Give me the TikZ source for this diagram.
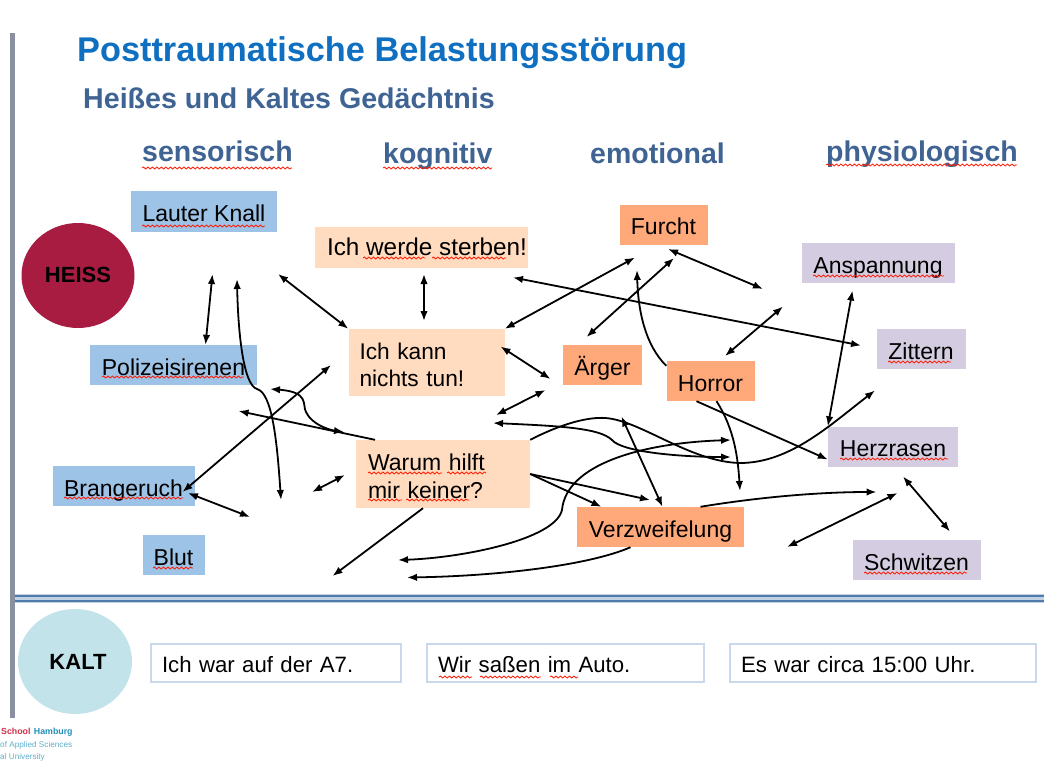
\documentclass[tikz,border=0pt]{standalone}
\usepackage{fontspec}
\setmainfont{Liberation Sans}
\usepackage{xcolor}
\usepackage{tikz}
\usetikzlibrary{arrows.meta, positioning, shapes.geometric, decorations.pathmorphing}

\definecolor{sensblue}{HTML}{9DC3E6}
\definecolor{kogpeach}{HTML}{FFDBBF}
\definecolor{emoorange}{HTML}{FFA97A}
\definecolor{physlilac}{HTML}{D4CDE1}
\definecolor{heissred}{HTML}{A81C42}
\definecolor{kaltcyan}{HTML}{C3E3EB}
\definecolor{kaltedge}{HTML}{C9D8EA}
\definecolor{titleblue}{HTML}{0F6FC0}
\definecolor{headblue}{HTML}{3F6494}
\definecolor{rulegray}{HTML}{8A90A0}
\definecolor{ruleblue}{HTML}{4F7CAC}
\definecolor{logored}{HTML}{D0304A}
\definecolor{logoteal}{HTML}{2090B8}
\definecolor{logopale}{HTML}{60B0CC}

\begin{document}
\begin{tikzpicture}[
  x=1pt, y=-1pt,
  font=\fontsize{23}{27.5}\selectfont,
  box/.style={rectangle, inner sep=0pt, text=black},
  onel/.style={box, text height=30pt, text depth=10pt},
  sens/.style={onel, fill=sensblue},
  kog/.style={box, fill=kogpeach, align=left},
  emo/.style={onel, fill=emoorange},
  phys/.style={onel, fill=physlilac},
  kaltbox/.style={box, draw=kaltedge, line width=2.5pt, fill=white, inner xsep=11pt, text width=#1, align=left,
                  font=\fontsize{22.2}{27}\selectfont},
  blob/.style={ellipse, inner sep=0pt, font=\fontsize{22}{26}\selectfont\bfseries},
  head/.style={anchor=base west, inner sep=0pt, text=headblue, font=\fontsize{28.5}{32}\selectfont\bfseries},
  logo/.style={anchor=base west, inner sep=0pt, font=\fontsize{8.2}{10}\selectfont, text=logopale},
  arr/.style={-{Latex[length=10pt,width=7.5pt]}, line width=1.8pt},
  darr/.style={{Latex[length=10pt,width=7.5pt]}-{Latex[length=10pt,width=7.5pt]}, line width=1.8pt},
  squig/.style={red!80!orange, line width=0.8pt, decorate, decoration={snake, amplitude=1pt, segment length=4.5pt}},
  ]
  \useasboundingbox[fill=white] (0,0) rectangle (1064,778);

  %% Frame: grey bar and the blue double rule
  \fill[rulegray] (10,33) rectangle (14.5,718);
  \fill[ruleblue!35] (14.5,594) rectangle (1044,603);
  \fill[ruleblue] (14.5,594.5) rectangle (1044,596.5);
  \fill[ruleblue] (14.5,600) rectangle (1044,602);

  %% Titles and column heads
  \node[anchor=base west, inner sep=0pt, text=titleblue, font=\fontsize{34.3}{38}\selectfont\bfseries] (title) at (77,62) {Posttraumatische Belastungsstörung};
  \node[anchor=base west, inner sep=0pt, text=headblue, font=\fontsize{28.6}{32}\selectfont\bfseries] (subtitle) at (83,109) {Heißes und Kaltes Gedächtnis};
  \node[head] (hsens) at (142,162) {sensorisch};
  \node[head] (hkog)  at (383,164) {kognitiv};
  \node[head] (hemo)  at (590,164) {emotional};
  \node[head] (hphys) at (826,161) {physiologisch};

  %% Nodes: heiss, sensory, cognitive, emotional, physiological
  \node[blob, fill=heissred, minimum width=113, minimum height=105] (heiss) at (78,275.5) {\raisebox{2pt}{HEISS}};
  \node[sens, minimum width=146, minimum height=41] (knall) at (204,211) {Lauter Knall};
  \node[sens, minimum width=167] (poli)  at (173.5,365) {Polizeisirenen};
  \node[sens, minimum width=142] (brand) at (123.5,486) {Brangeruch};
  \node[sens, minimum width=62]  (blut)  at (173.5,555) {Blut};

  \node[onel, fill=kogpeach, minimum width=213, text height=28pt, text depth=13pt, font=\fontsize{24.3}{29}\selectfont] (sterben) at (421.5,247.5) {\hspace*{11pt}Ich werde sterben!};
  \node[kog, minimum width=156, minimum height=67, text width=134, font=\fontsize{22.7}{27.5}\selectfont] (kann)  at (426.5,362.5) {\rule{0pt}{21pt}Ich kann\\nichts tun!};
  \node[kog, minimum width=174, minimum height=68, text width=150] (warum) at (443,474) {\rule{0pt}{21pt}Warum hilft\\mir keiner?};

  \node[emo, minimum width=88]  (furcht) at (663.5,224.5) {Furcht};
  \node[emo, minimum width=79]  (aerger) at (602.5,365) {Ärger};
  \node[emo, minimum width=88]  (horror) at (710.5,381) {Horror};
  \node[emo, minimum width=167] (verz)   at (660.5,527) {Verzweifelung};

  \node[phys, minimum width=153] (ansp)  at (878,263) {Anspannung};
  \node[phys, minimum width=89]  (zitt)  at (921,349) {Zittern};
  \node[phys, minimum width=130] (herz)  at (893,446.5) {Herzrasen};
  \node[phys, minimum width=128] (schw)  at (916.5,560) {Schwitzen};

  \node[blob, fill=kaltcyan, minimum width=114, minimum height=105] (kalt) at (75,661.5) {\hspace*{6pt}KALT};
  \node[kaltbox=228, minimum height=38] (kalta) at (276,663) {\rule{0pt}{19pt}Ich war auf der A7.};
  \node[kaltbox=255, minimum height=38] (kaltb) at (565.5,663) {\rule{0pt}{19pt}Wir saßen im Auto.};
  \node[kaltbox=284, minimum height=38] (kaltc) at (883,663) {\rule{0pt}{19pt}Es war circa 15:00 Uhr.};

  %% Logo lines at the lower edge
  \node[logo, font=\fontsize{8.8}{10}\selectfont\bfseries, text=logored] (logoa) at (1,734) {School};
  \node[logo, font=\fontsize{8.8}{10}\selectfont\bfseries, text=logoteal, right=3pt of logoa.base east, anchor=base west] (logob) {Hamburg};
  \node[logo] (logoc) at (0,747) {of Applied Sciences};
  \node[logo] (logod) at (0,759) {al University};

  %% Free arrow ends
  \coordinate (fa) at (212.5,274);
  \coordinate (fb) at (237,279);
  \coordinate (fc) at (281,500);
  \coordinate (fd) at (278,274);
  \coordinate (fe) at (424,274);
  \coordinate (ff) at (424,321);
  \coordinate (fg) at (331,365);
  \coordinate (fh) at (182.5,492);
  \coordinate (fi) at (270,389);
  \coordinate (fj) at (344,432);
  \coordinate (fk) at (238.5,411);
  \coordinate (fl) at (345,475);
  \coordinate (fm) at (312,492);
  \coordinate (fn) at (188,493);
  \coordinate (fo) at (250,517);
  \coordinate (fp) at (332.5,576);
  \coordinate (fq) at (398,560);
  \coordinate (fr) at (731,440);
  \coordinate (fs) at (407,577.5);
  \coordinate (ft) at (635,257.5);
  \coordinate (fu) at (674,258);
  \coordinate (fv) at (586.5,337);
  \coordinate (fw) at (668,249);
  \coordinate (fx) at (763,289);
  \coordinate (fy) at (513,277.5);
  \coordinate (fz) at (861,345.5);
  \coordinate (ga) at (783,306.5);
  \coordinate (gb) at (725,356);
  \coordinate (gc) at (637,270);
  \coordinate (gd) at (852.5,290.5);
  \coordinate (ge) at (500.5,346.5);
  \coordinate (gf) at (550.5,379);
  \coordinate (gg) at (545.5,390);
  \coordinate (gh) at (496,415);
  \coordinate (gi) at (493,423);
  \coordinate (gj) at (731,457);
  \coordinate (gk) at (875,390.5);
  \coordinate (gl) at (621.5,416.5);
  \coordinate (gm) at (650,500);
  \coordinate (gn) at (740,491);
  \coordinate (go) at (876.5,492);
  \coordinate (gp) at (897.5,493);
  \coordinate (gq) at (787,547);
  \coordinate (gr) at (903,476.5);
  \coordinate (gs) at (950,531.5);

  %% Connectors on the left half
  \draw[darr] (fa) -- ([xshift=32pt]poli.north);
  \draw[darr] (fb) .. controls (238,330) and (243,385) .. (257,389) .. controls (272,393) and (277,440) .. (fc);
  \draw[darr] (fd) -- (kann.north west);
  \draw[darr] (fe) -- (ff);
  \draw[darr] (fg) -- (fh);
  \draw[darr] (fi) .. controls (310,392) and (302,405) .. (306,412) .. controls (312,425) and (330,430) .. (fj);
  \draw[arr]  ([xshift=-68pt]warum.north) -- (fk);
  \draw[darr] (fl) -- (fm);
  \draw[darr] (fn) -- (fo);
  \draw[arr]  ([xshift=-20pt]warum.south) -- (fp);

  %% Long curves through the middle
  \draw[darr] (fq) .. controls (460,558) and (555,540) .. (562,510) .. controls (566,465) and (640,443) .. (fr);
  \draw[arr]  ([xshift=-30pt]verz.south) .. controls (590,565) and (500,576) .. (fs);
  \draw[darr] (gi) .. controls (560,426) and (600,428) .. (612,440) .. controls (622,452) and (680,457) .. (gj);
  \draw[arr]  (warum.north east) .. controls (565,422) and (590,417) .. (605,418) .. controls (640,420) and (690,462) .. (740,463) .. controls (790,463) and (830,425) .. (gk);

  %% Connectors on the right half
  \draw[darr] (ft) -- (kann.north east);
  \draw[darr] (fu) -- (fv);
  \draw[darr] (fw) -- (fx);
  \draw[darr] (fy) -- (fz);
  \draw[darr] (ga) -- (gb);
  \draw[arr]  ([yshift=-5pt]horror.north west) .. controls (645,345) and (638,310) .. (gc);
  \draw[darr] (gd) -- (herz.north west);
  \draw[darr] (ge) -- (gf);
  \draw[darr] (gg) -- (gh);
  \draw[darr] (gl) -- ([xshift=2pt]verz.north);
  \draw[arr]  (warum.east) -- (gm);
  \draw[arr]  (warum.east) -- ([xshift=-59pt]verz.north);
  \draw[arr]  ([xshift=-14pt]horror.south) -- ([yshift=-13pt]herz.west);
  \draw[arr]  ([xshift=6pt]horror.south) .. controls (735,430) and (738,460) .. (gn);
  \draw[arr]  ([xshift=40pt]verz.north) .. controls (760,497) and (820,492) .. (go);
  \draw[darr] (gp) -- (gq);
  \draw[darr] (gr) -- (gs);

  %% Spell-check underlines
  \foreach \xa/\xb/\yy in {142/265/226, 363/425/258, 432/506/258, 102/244/377, 64/183/498, 153/193/568,
      368/442/473, 447/486/473, 368/402/500, 406/469/500, 813/944/276, 888/951/362, 840/948/459, 864/967/573,
      142/292/168, 383/492/168, 826/1017/165, 439/472/677, 480/541/677, 550/578/677}
    \draw[squig] (\xa,\yy) -- (\xb,\yy);
\end{tikzpicture}
\end{document}
